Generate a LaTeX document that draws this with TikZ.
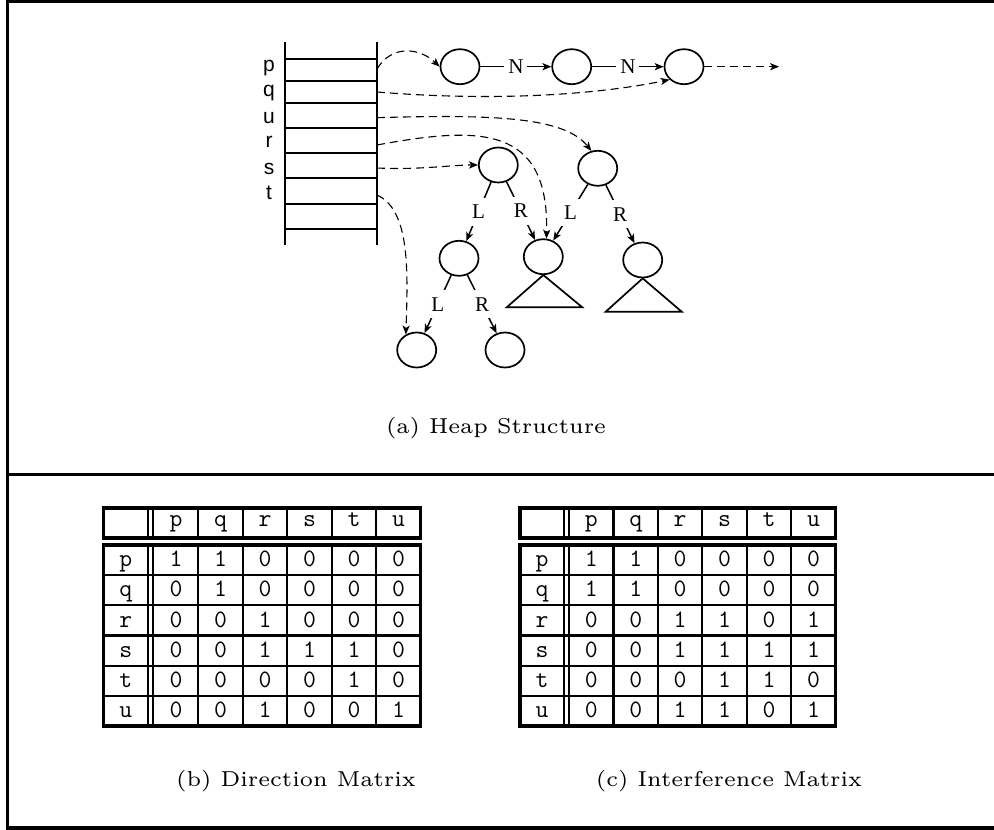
\documentclass[tikz,border=0pt]{standalone}
\usepackage{fontspec}
\newfontfamily\helvfont{Liberation Sans}
\newfontfamily\timesfont{Liberation Serif}
\usetikzlibrary{shapes.geometric, arrows.meta}

\begin{document}
\begin{tikzpicture}[x = 0.5pt, y = -0.5pt, > = {Stealth[length = 4.5pt, width = 3.6pt, inset = 1.2pt]}]

	% Styles

	\tikzset{
		cell/.style = {draw, ellipse, line width = 0.85pt, minimum width = 19.5pt, minimum height = 17.5pt, inner sep = 0pt},
		lab/.style = {fill = white, inner xsep = 2pt, inner ysep = 3.5pt, font = \fontsize{10.5}{12}\timesfont},
		ptr/.style = {->, line width = 0.55pt, dash pattern = on 4pt off 2.5pt},
		link/.style = {->, line width = 0.75pt},
		var/.style = {anchor = base, font = \fontsize{10.5}{12}\helvfont},
		entry/.style = {anchor = base, font = \fontsize{12.5}{14}\ttfamily},
		outer/.style = {line width = 1.6pt},
		inner/.style = {line width = 1.05pt},
		captext/.style = {scale = 1.8, font = \fontsize{6}{7}\selectfont}
	}

	\useasboundingbox (0, 0) rectangle (994, 829);

	% Frame

	\draw [outer] (994, 1.5) -- (7.5, 1.5) -- (7.5, 828) -- (994, 828);
	\draw [line width = 1.3pt] (7.5, 474.3) -- (994, 474.3);

	% Stack of variables

	\draw [line width = 0.9pt] (285, 42) -- (285, 245);
	\draw [line width = 0.9pt] (377, 42) -- (377, 245);
	\foreach \y in {59, 81, 103, 128, 153, 178, 204, 229}
		\draw [line width = 0.9pt] (285, \y) -- (377, \y);

	\foreach \v/\y in {p/72, q/97, u/123, r/148, s/174, t/199}
		\node [var] (name-\v) at (269, \y) {\v};

	\foreach \v/\y in {p/69, q/92, u/117.7, r/145, s/168, t/195}
		\coordinate (var-\v) at (377, \y);

	% Linked list

	\node [cell] (n1) at (460, 66.7) {};
	\node [cell] (n2) at (571.7, 66.7) {};
	\node [cell] (n3) at (684, 66.7) {};
	\coordinate (nil) at (779, 66.7);

	\draw [link] (n1) -- node [lab] {N} (n2);
	\draw [link] (n2) -- node [lab] {N} (n3);
	\draw [ptr] (n3) -- (nil);

	% Trees

	\node [cell] (lroot) at (498.3, 165) {};
	\node [cell] (rroot) at (597.7, 168.3) {};
	\node [cell] (lkid) at (459, 258.3) {};
	\node [cell] (mid) at (543.3, 256.7) {};
	\node [cell] (rkid) at (642.7, 260) {};
	\node [cell] (leaf1) at (416.7, 350) {};
	\node [cell] (leaf2) at (505, 350) {};

	\draw [link] (lroot) -- node [lab] {L} (lkid);
	\draw [link] (lroot) -- node [lab] {R} (mid);
	\draw [link] (rroot) -- node [lab] {L} (mid);
	\draw [link] (rroot) -- node [lab] {R} (rkid);
	\draw [link] (lkid) -- node [lab] {L} (leaf1);
	\draw [link] (lkid) -- node [lab] {R} (leaf2);

	\draw [line width = 0.85pt] (mid.south) -- (506.7, 307.3) -- (582.3, 307.3) -- cycle;
	\draw [line width = 0.85pt] (rkid.south) -- (605.7, 311.7) -- (681.7, 311.7) -- cycle;

	% Pointers from the stack

	\draw [ptr] (var-p) .. controls (392, 44) and (420, 48) .. (n1.west);
	\draw [ptr] (var-q) .. controls (500, 102) and (600, 94) .. (n3.south west);
	\draw [ptr] (var-u) .. controls (500, 114) and (565, 118) .. (rroot.110);
	\draw [ptr] (var-r) .. controls (480, 126) and (549, 125) .. (mid.80);
	\draw [ptr] (var-s) .. controls (420, 170) and (450, 165) .. (lroot.west);
	\draw [ptr] (var-t) .. controls (410, 210) and (408, 270) .. (leaf1.125);

	% Direction matrix

	\def\w{44.5}
	\def\h{30.17}

	\draw [outer] (103.3, 508) rectangle (420.7, 538);
	\draw [outer] (103.3, 545) rectangle (420.7, 726);
	\foreach \x in {148.3, 152.7}
	{
		\draw [inner] (\x, 508) -- (\x, 538);
		\draw [inner] (\x, 545) -- (\x, 726);
	}
	\foreach \k in {1, ..., 5}
	{
		\draw [inner] (153.7 + \k * \w, 508) -- (153.7 + \k * \w, 538);
		\draw [inner] (153.7 + \k * \w, 545) -- (153.7 + \k * \w, 726);
		\draw [inner] (103.3, 545 + \k * \h) -- (420.7, 545 + \k * \h);
	}

	\foreach \v [count = \j] in {p, q, r, s, t, u}
	{
		\node [entry] (b-top-\v) at (153.7 + \j * \w - 0.5 * \w, 526) {\v};
		\node [entry] (b-side-\v) at (125.8, 545 + \j * \h - 0.5 * \h + 6.7) {\v};
	}

	\foreach \row [count = \i] in {{1,1,0,0,0,0}, {0,1,0,0,0,0}, {0,0,1,0,0,0}, {0,0,1,1,1,0}, {0,0,0,0,1,0}, {0,0,1,0,0,1}}
		\foreach \v [count = \j] in \row
			\node [entry] (b-\i-\j) at (153.7 + \j * \w - 0.5 * \w, 545 + \i * \h - 0.5 * \h + 6.7) {\v};

	% Interference matrix

	\draw [outer] (520, 508) rectangle (835.7, 538);
	\draw [outer] (520, 545) rectangle (835.7, 726);
	\foreach \x in {564.3, 569}
	{
		\draw [inner] (\x, 508) -- (\x, 538);
		\draw [inner] (\x, 545) -- (\x, 726);
	}
	\foreach \k in {1, ..., 5}
	{
		\draw [inner] (569 + \k * 44.45, 508) -- (569 + \k * 44.45, 538);
		\draw [inner] (569 + \k * 44.45, 545) -- (569 + \k * 44.45, 726);
		\draw [inner] (520, 545 + \k * \h) -- (835.7, 545 + \k * \h);
	}

	\foreach \v [count = \j] in {p, q, r, s, t, u}
	{
		\node [entry] (c-top-\v) at (569 + \j * 44.45 - 22.2, 526) {\v};
		\node [entry] (c-side-\v) at (542.1, 545 + \j * \h - 0.5 * \h + 6.7) {\v};
	}

	\foreach \row [count = \i] in {{1,1,0,0,0,0}, {1,1,0,0,0,0}, {0,0,1,1,0,1}, {0,0,1,1,1,1}, {0,0,0,1,1,0}, {0,0,1,1,0,1}}
		\foreach \v [count = \j] in \row
			\node [entry] (c-\i-\j) at (569 + \j * 44.45 - 22.2, 545 + \i * \h - 0.5 * \h + 6.7) {\v};

	% Captions

	\node [captext] (cap-a) at (496, 428) {(a) Heap Structure};
	\node [captext] (cap-b) at (296, 781) {(b) Direction Matrix};
	\node [captext] (cap-c) at (729, 781) {(c) Interference Matrix};

\end{tikzpicture}
\end{document}
